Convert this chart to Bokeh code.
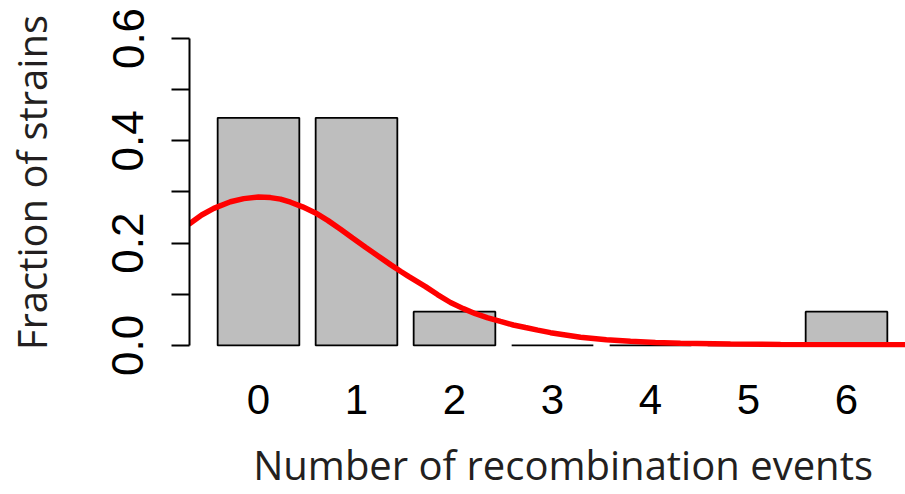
from bokeh.plotting import figure
from bokeh.embed import file_html
from bokeh.resources import INLINE
from bokeh.models import FixedTicker, Range1d, PrintfTickFormatter

# ---- data ----
events = [0, 1, 2, 3, 4, 5, 6]
fractions = [0.445, 0.445, 0.066, 0.0, 0.0, 0.0, 0.066]

curve_x = [-0.711, -0.58, -0.456, -0.286, -0.15, 0.0, 0.122, 0.224, 0.327, 0.45,
           0.582, 0.71, 0.837, 0.96, 1.092, 1.22, 1.347, 1.449, 1.531, 1.704,
           1.83, 1.959, 2.09, 2.214, 2.34, 2.469, 2.6, 2.724, 2.85, 2.98,
           3.286, 3.55, 3.796, 4.05, 4.306, 4.816, 5.327, 6.6]
curve_y = [0.237, 0.255, 0.268, 0.281, 0.287, 0.290, 0.289, 0.286, 0.280, 0.271,
           0.259, 0.244, 0.227, 0.210, 0.192, 0.175, 0.158, 0.145, 0.135, 0.115,
           0.099, 0.084, 0.072, 0.062, 0.054, 0.047, 0.040, 0.035, 0.030, 0.025,
           0.016, 0.011, 0.008, 0.006, 0.0045, 0.003, 0.002, 0.0015]

y_major = [0.0, 0.2, 0.4, 0.6]
y_minor = [0.1, 0.3, 0.5]
x_labels = {i: str(i) for i in events}
NBSP = "\u00a0"
x_title_text = NBSP * 3 + "Number of recombination events"
y_title_text = NBSP * 2 + "Fraction of strains"

p = figure(width=905, height=494, output_backend="svg", toolbar_location=None,
           x_range=Range1d(-0.704, 6.602), y_range=Range1d(-0.004, 0.6),
           min_border_left=189, min_border_right=0, min_border_top=38,
           min_border_bottom=147)
p.outline_line_color = None
p.grid.visible = False
p.background_fill_color = "white"
p.border_fill_color = "white"

p.vbar(x=events, top=fractions, bottom=0, width=1 / 1.2,
       fill_color="#bebebe", line_color="black", line_width=1.8)
p.line(curve_x, curve_y, line_color="red", line_width=5.5)

# x axis: labels only
xa = p.xaxis[0]
xa.ticker = FixedTicker(ticks=events)
xa.major_label_overrides = x_labels
xa.axis_line_color = None
xa.major_tick_line_color = None
xa.minor_tick_line_color = None
xa.major_tick_out = 0
xa.major_tick_in = 0
xa.major_label_standoff = 37
xa.major_label_text_font = "Liberation Sans"
xa.major_label_text_font_size = "42px"
xa.major_label_text_color = "black"
xa.axis_label = x_title_text
xa.axis_label_standoff = 20
xa.axis_label_text_font = "Open Sans"
xa.axis_label_text_font_size = "40px"
xa.axis_label_text_font_style = "normal"
xa.axis_label_text_color = "#231f20"

# y axis
ya = p.yaxis[0]
ya.ticker = FixedTicker(ticks=y_major, minor_ticks=y_minor)
ya.formatter = PrintfTickFormatter(format="%.1f")
ya.bounds = (0, 0.6)
ya.axis_line_width = 2
ya.axis_line_color = "black"
ya.major_tick_line_width = 2
ya.minor_tick_line_width = 2
ya.major_tick_out = 18
ya.major_tick_in = 0
ya.minor_tick_out = 18
ya.minor_tick_in = 0
ya.minor_tick_line_color = "black"
ya.major_label_orientation = "vertical"
ya.major_label_standoff = 28
ya.major_label_text_font = "Liberation Sans"
ya.major_label_text_font_size = "44px"
ya.major_label_text_color = "black"
ya.axis_label = y_title_text
ya.axis_label_standoff = 51
ya.axis_label_text_font = "Open Sans"
ya.axis_label_text_font_size = "40px"
ya.axis_label_text_font_style = "normal"
ya.axis_label_text_color = "#231f20"

open("out.html", "w").write(file_html(p, INLINE))
